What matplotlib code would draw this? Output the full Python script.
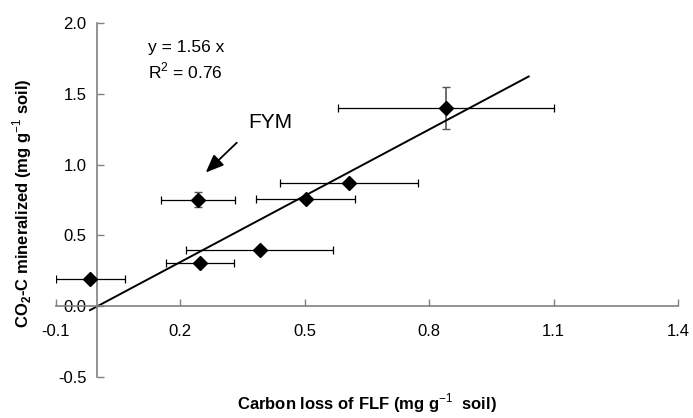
import matplotlib
matplotlib.use("Agg")
import matplotlib.pyplot as plt
import numpy as np

plt.rcParams['font.family'] = ['Liberation Sans', 'DejaVu Sans']
plt.rcParams['mathtext.fontset'] = 'custom'
plt.rcParams['mathtext.rm'] = 'Liberation Sans'
plt.rcParams['mathtext.bf'] = 'Liberation Sans:bold'

# Data
x_vals = [-0.017, 0.242, 0.247, 0.391, 0.502, 0.606, 0.840]
y_vals = [0.19, 0.753, 0.303, 0.396, 0.76, 0.873, 1.40]
x_err = [0.083, 0.089, 0.082, 0.178, 0.119, 0.167, 0.26]
y_err = [0.0, 0.05, 0.0, 0.0, 0.0, 0.0, 0.15]
slope = 1.56
fit_x = [-0.018, 1.04]
x_ticks = [-0.1, 0.2, 0.5, 0.8, 1.1, 1.4]
y_ticks = [-0.5, 0.0, 0.5, 1.0, 1.5, 2.0]

fig = plt.figure(figsize=(6.93, 4.18), dpi=100)
ax = fig.add_axes([56/693, 41/418, (678-56)/693, (377-23)/418])

ax.set_xlim(-0.1, 1.4)
ax.set_ylim(-0.5, 2.0)

gray = '#808080'
for s in ['top', 'right']:
    ax.spines[s].set_visible(False)
ax.spines['left'].set_position(('data', 0))
ax.spines['bottom'].set_position(('data', 0))
for s in ['left', 'bottom']:
    ax.spines[s].set_color(gray)
    ax.spines[s].set_linewidth(1.2)

ax.set_xticks(x_ticks)
ax.set_xticklabels([f"{v:.1f}" for v in x_ticks])
ax.set_yticks(y_ticks)
ax.set_yticklabels([f"{v:.1f}" for v in y_ticks])
ax.tick_params(axis='x', direction='in', length=5, width=1, color=gray, pad=13, labelsize=12)
ax.tick_params(axis='y', direction='in', length=5, width=1, color=gray, pad=8, labelsize=12)

# error bars
ax.errorbar(x_vals, y_vals, xerr=x_err, fmt='none', ecolor='black', elinewidth=0.9, capsize=3, capthick=0.9, zorder=2)
ax.errorbar(x_vals, y_vals, yerr=y_err, fmt='none', ecolor='#555555', elinewidth=1.2, capsize=3, capthick=1, zorder=2)
ax.plot(x_vals, y_vals, linestyle='none', marker='D', markersize=7, color='black', zorder=3)

fx = np.array(fit_x)
ax.plot(fx, slope * fx, color='black', linewidth=1.4, zorder=2)

ax.text(0.122, 1.83, 'y = 1.56 x', fontsize=12.5, va='center', ha='left')
ax.text(0.122, 1.66, 'R$^{2}$ = 0.76', fontsize=12.5, va='center', ha='left')
ax.text(0.363, 1.30, 'FYM', fontsize=15, va='center', ha='left')
ax.annotate('', xy=(0.261, 0.944), xytext=(0.336, 1.155),
            arrowprops=dict(arrowstyle='-|>,head_length=1.1,head_width=0.45', color='black', lw=1.3, shrinkA=0, shrinkB=0))

fig.text(367/693, 1 - 403/418, 'Carbon loss of FLF (mg g$^{-1}$  soil)', ha='center', va='center',
         fontsize=12, fontweight='bold')
fig.text(22/693, 1 - 203/418, 'CO$_{\\mathbf{2}}$-C mineralized (mg g$^{-1}$ soil)', ha='center', va='center',
         fontsize=12, fontweight='bold', rotation=90)

fig.savefig('out.png', dpi=100)
